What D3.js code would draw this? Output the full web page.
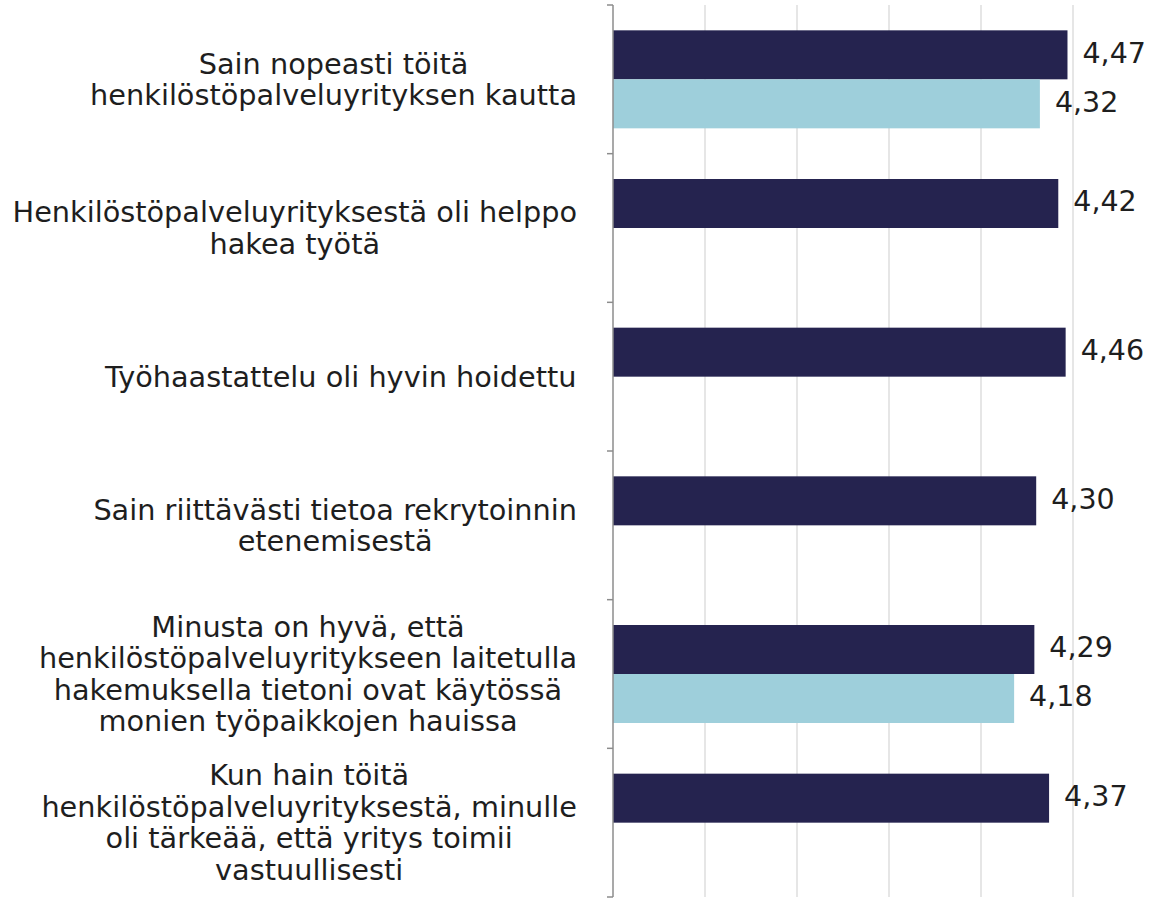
<!DOCTYPE html>
<html>
<head>
<meta charset="utf-8">
<script src="https://cdn.jsdelivr.net/npm/d3@7"></script>
<style>
  body { margin: 0; background: #ffffff; }
  text { font-family: "DejaVu Sans", sans-serif; fill: #1e1e1e; }
</style>
</head>
<body>
<div id="container"></div>
<script>
var categories = [
  "Sain nopeasti töitä\nhenkilöstöpalveluyrityksen kautta",
  "Henkilöstöpalveluyrityksestä oli helppo\nhakea työtä",
  "Työhaastattelu oli hyvin hoidettu",
  "Sain riittävästi tietoa rekrytoinnin\netenemisestä",
  "Minusta on hyvä, että\nhenkilöstöpalveluyritykseen laitetulla\nhakemuksella tietoni ovat käytössä\nmonien työpaikkojen hauissa",
  "Kun hain töitä\nhenkilöstöpalveluyrityksestä, minulle\noli tärkeää, että yritys toimii\nvastuullisesti"
];
var seriesA = [4.47, 4.42, 4.46, 4.30, 4.29, 4.37];
var seriesB = [4.32, null, null, null, 4.18, null];
var seriesKeys = ["a", "b"];
var gridTicks = [2, 2.5, 3, 3.5, 4, 4.5, 5];

var width = 1150, height = 898;
var colors = { a: "#25234f", b: "#9ecfdb" };
var locale = d3.formatLocale({ decimal: ",", thousands: " ", grouping: [3], currency: ["", "€"] });
var fmt = locale.format(".2f");

var data = categories.map(function (c, i) {
  return { name: c, a: seriesA[i], b: seriesB[i] };
});

var svg = d3.select("#container")
  .append("svg")
  .attr("width", width)
  .attr("height", height);

var x = d3.scaleLinear().domain([2, 5]).range([613, 1165]);
var y = d3.scaleBand().domain(categories).range([5, 897]);
var inner = d3.scaleBand().domain(seriesKeys).range([0, y.bandwidth()]).paddingOuter(0.517);

// grid
svg.append("g")
  .selectAll("line.grid")
  .data(gridTicks.slice(1))
  .enter()
  .append("line")
  .attr("class", "grid")
  .attr("x1", function (d) { return x(d); })
  .attr("x2", function (d) { return x(d); })
  .attr("y1", 5)
  .attr("y2", 897)
  .style("stroke", "#dedede")
  .style("stroke-width", 1.5);

// bars
var groups = svg.append("g")
  .selectAll("g.cat")
  .data(data)
  .enter()
  .append("g")
  .attr("class", "cat")
  .attr("transform", function (d) { return "translate(0," + y(d.name) + ")"; });

function present(d) {
  return seriesKeys.filter(function (k) { return d[k] != null; })
    .map(function (k) { return { key: k, value: d[k] }; });
}

groups.selectAll("rect")
  .data(present)
  .enter()
  .append("rect")
  .attr("x", x(2))
  .attr("y", function (d) { return inner(d.key); })
  .attr("width", function (d) { return x(d.value) - x(2); })
  .attr("height", inner.bandwidth())
  .style("fill", function (d) { return colors[d.key]; });

groups.selectAll("text.value")
  .data(present)
  .enter()
  .append("text")
  .attr("class", "value")
  .attr("x", function (d) { return x(d.value) + 15; })
  .attr("y", function (d) { return inner(d.key) + inner.bandwidth() / 2; })
  .attr("dy", "0.28em")
  .style("font-size", "28.5px")
  .text(function (d) { return fmt(d.value); });

// axis line + ticks at band edges
var axis = svg.append("g").attr("class", "axis");
axis.append("line")
  .attr("x1", x(2)).attr("x2", x(2))
  .attr("y1", 5).attr("y2", 897)
  .style("stroke", "#8c8c8c")
  .style("stroke-width", 1.5);
axis.selectAll("line.tick")
  .data(categories.map(function (c) { return y(c); }).concat([897]))
  .enter()
  .append("line")
  .attr("class", "tick")
  .attr("x1", x(2) - 6).attr("x2", x(2))
  .attr("y1", function (d) { return d; })
  .attr("y2", function (d) { return d; })
  .style("stroke", "#8c8c8c")
  .style("stroke-width", 1.5);

// category labels: block right-aligned, lines centred
var lineH = 31.5;
svg.append("g")
  .selectAll("text.cat-label")
  .data(categories)
  .enter()
  .append("text")
  .attr("class", "cat-label")
  .attr("text-anchor", "middle")
  .style("font-size", "28.75px")
  .each(function (d) {
    var t = d3.select(this);
    var lines = d.split("\n");
    var cy = y(d) + y.bandwidth() / 2;
    lines.forEach(function (l, i) {
      t.append("tspan")
        .attr("x", 0)
        .attr("y", cy + (i - (lines.length - 1) / 2) * lineH)
        .attr("dy", "0.35em")
        .text(l);
    });
    var w = this.getBBox().width;
    t.attr("transform", "translate(" + (577 - w / 2) + ",0)");
  });
</script>
</body>
</html>
